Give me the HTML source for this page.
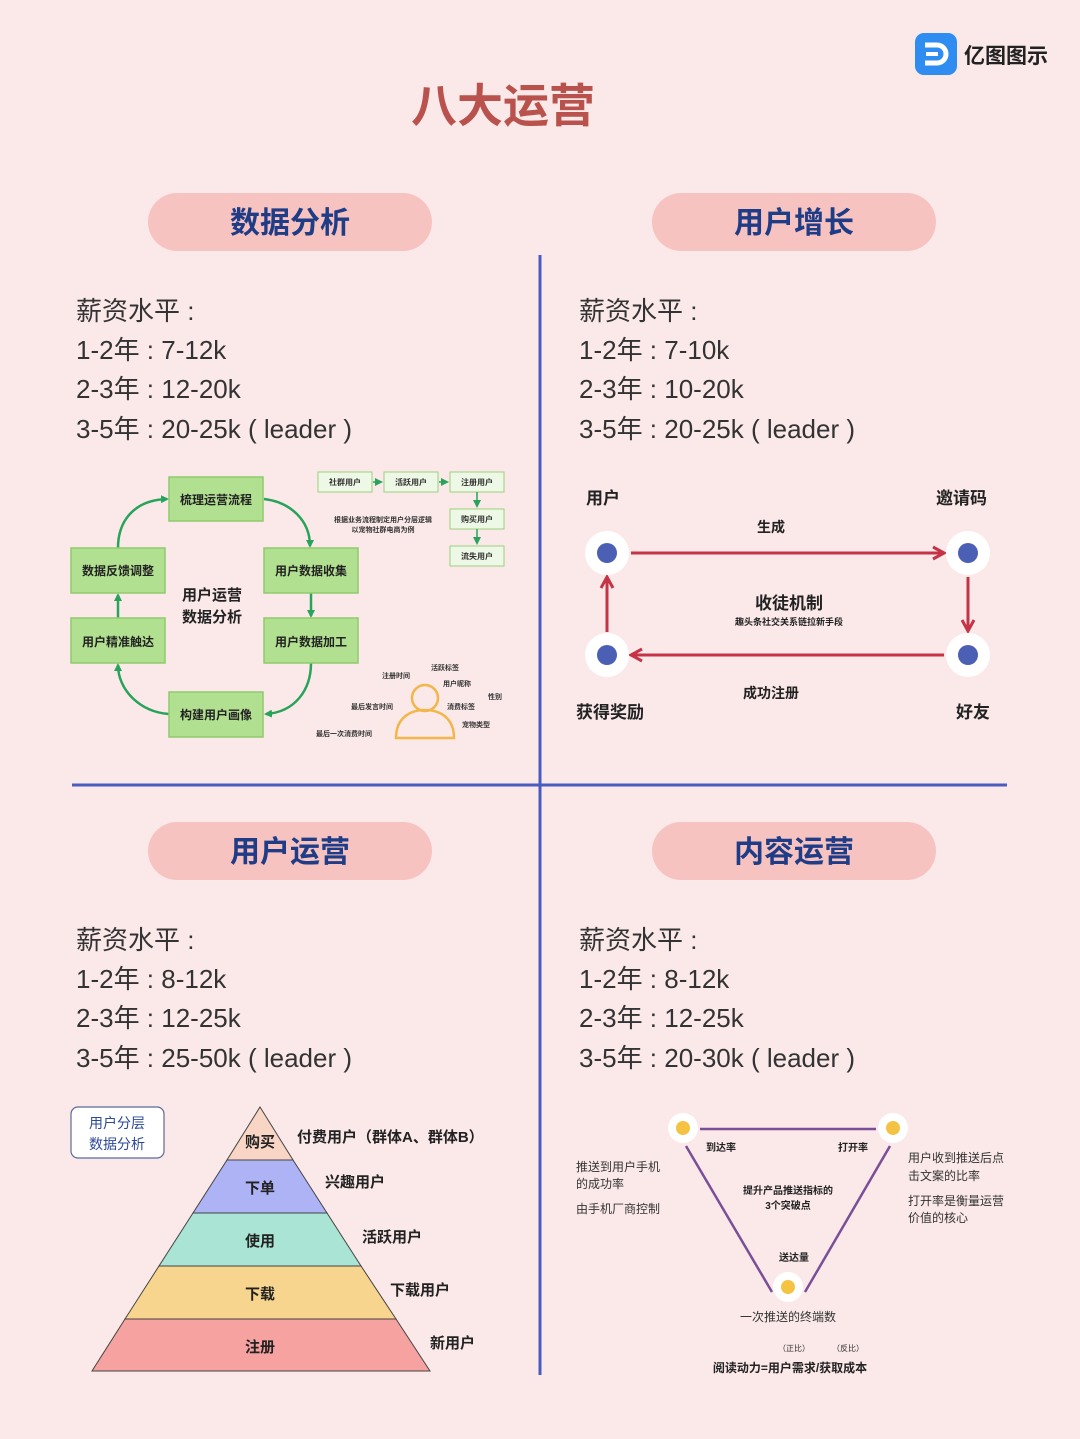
<!DOCTYPE html>
<html><head><meta charset="utf-8"><style>
html,body{margin:0;padding:0;background:#fbe9e9;}
svg{display:block;font-family:"Liberation Sans","Noto Sans CJK SC",sans-serif;}
</style></head><body>
<svg width="1080" height="1439" viewBox="0 0 1080 1439" xmlns="http://www.w3.org/2000/svg">
<defs>
<marker id="ga" markerWidth="8" markerHeight="8" refX="6" refY="4" orient="auto" markerUnits="userSpaceOnUse"><path d="M0,0 L8,4 L0,8 z" fill="#27a35a"/></marker>
<marker id="ra" markerWidth="16" markerHeight="16" refX="13" refY="8" orient="auto" markerUnits="userSpaceOnUse"><path d="M2,2 L13,8 L2,14" fill="none" stroke="#c43446" stroke-width="3"/></marker>
</defs>
<rect width="1080" height="1439" fill="#fbe9e9"/>
<rect x="915" y="33" width="42" height="42" rx="9" fill="#2f8cf0"/>
<path d="M925,45 h12 a9,9 0 0 1 0,18 h-12" fill="none" stroke="#fff" stroke-width="5"/>
<line x1="926" y1="54" x2="938" y2="54" stroke="#fff" stroke-width="4"/>
<text x="964" y="63" font-size="21" font-weight="bold" fill="#222">亿图图示</text>
<text x="503" y="122" font-size="46" font-weight="bold" fill="#b9524c" text-anchor="middle">八大运营</text>
<line x1="540" y1="255" x2="540" y2="1375" stroke="#4a5bbf" stroke-width="3"/>
<line x1="72" y1="785" x2="1007" y2="785" stroke="#4a5bbf" stroke-width="3"/>
<g font-size="30" font-weight="bold" fill="#1f3c86" text-anchor="middle">
<rect x="148" y="193" width="284" height="58" rx="29" fill="#f7c3c1"/><text x="290" y="233">数据分析</text>
<rect x="652" y="193" width="284" height="58" rx="29" fill="#f7c3c1"/><text x="794" y="233">用户增长</text>
<rect x="148" y="822" width="284" height="58" rx="29" fill="#f7c3c1"/><text x="290" y="862">用户运营</text>
<rect x="652" y="822" width="284" height="58" rx="29" fill="#f7c3c1"/><text x="794" y="862">内容运营</text>
</g>
<g font-size="26" fill="#333">
<text x="76" y="320">薪资水平 :</text><text x="76" y="359">1-2年 : 7-12k</text><text x="76" y="398">2-3年 : 12-20k</text><text x="76" y="438">3-5年 : 20-25k ( leader )</text>
<text x="579" y="320">薪资水平 :</text><text x="579" y="359">1-2年 : 7-10k</text><text x="579" y="398">2-3年 : 10-20k</text><text x="579" y="438">3-5年 : 20-25k ( leader )</text>
<text x="76" y="949">薪资水平 :</text><text x="76" y="988">1-2年 : 8-12k</text><text x="76" y="1027">2-3年 : 12-25k</text><text x="76" y="1067">3-5年 : 25-50k ( leader )</text>
<text x="579" y="949">薪资水平 :</text><text x="579" y="988">1-2年 : 8-12k</text><text x="579" y="1027">2-3年 : 12-25k</text><text x="579" y="1067">3-5年 : 20-30k ( leader )</text>
</g>
<g fill="none" stroke="#27a35a" stroke-width="2.5">
<path d="M118,548 C118,520 135,500 167,499" marker-end="url(#ga)"/>
<path d="M264,499 C290,502 310,520 310,546" marker-end="url(#ga)"/>
<path d="M311,593 L311,616" marker-end="url(#ga)"/>
<path d="M311,663 C311,690 295,712 266,714" marker-end="url(#ga)"/>
<path d="M169,714 C140,712 118,690 118,665" marker-end="url(#ga)"/>
<path d="M118,618 L118,595" marker-end="url(#ga)"/>
</g>
<g fill="#b2e091" stroke="#8fca6c" stroke-width="1.5">
<rect x="169" y="477" width="94" height="44"/><rect x="71" y="548" width="94" height="45"/><rect x="264" y="548" width="94" height="45"/>
<rect x="71" y="618" width="94" height="45"/><rect x="264" y="618" width="94" height="45"/><rect x="169" y="692" width="94" height="45"/>
</g>
<g font-size="12" font-weight="bold" fill="#222" text-anchor="middle">
<text x="216" y="504">梳理运营流程</text><text x="118" y="575">数据反馈调整</text><text x="311" y="575">用户数据收集</text>
<text x="118" y="646">用户精准触达</text><text x="311" y="646">用户数据加工</text><text x="216" y="719">构建用户画像</text>
<text x="212" y="600" font-size="15">用户运营</text><text x="212" y="622" font-size="15">数据分析</text>
</g>
<g fill="#eef8e6" stroke="#9bd07a" stroke-width="1">
<rect x="318" y="472" width="54" height="20"/><rect x="384" y="472" width="54" height="20"/><rect x="450" y="472" width="54" height="20"/>
<rect x="450" y="509" width="54" height="20"/><rect x="450" y="546" width="54" height="20"/>
</g>
<g stroke="#27a35a" stroke-width="1.5" fill="none">
<path d="M373,482 L381,482" marker-end="url(#ga)"/><path d="M439,482 L447,482" marker-end="url(#ga)"/>
<path d="M477,492 L477,506" marker-end="url(#ga)"/><path d="M477,529 L477,543" marker-end="url(#ga)"/>
</g>
<g font-size="8" font-weight="bold" fill="#333" text-anchor="middle">
<text x="345" y="485">社群用户</text><text x="411" y="485">活跃用户</text><text x="477" y="485">注册用户</text>
<text x="477" y="522">购买用户</text><text x="477" y="559">流失用户</text>
<text x="383" y="522" font-size="7">根据业务流程制定用户分层逻辑</text><text x="383" y="532" font-size="7">以宠物社群电商为例</text>
</g>
<g fill="none" stroke="#f2b64a" stroke-width="2.5">
<circle cx="425" cy="698" r="13"/><path d="M396,738 C396,718 410,710 425,710 C440,710 454,718 454,738 Z"/>
</g>
<g font-size="7" font-weight="bold" fill="#333">
<text x="382" y="678">注册时间</text><text x="431" y="670">活跃标签</text><text x="443" y="686">用户昵称</text><text x="488" y="699">性别</text>
<text x="351" y="709">最后发言时间</text><text x="447" y="709">消费标签</text><text x="462" y="727">宠物类型</text><text x="316" y="736">最后一次消费时间</text>
</g>
<g font-size="17" font-weight="bold" fill="#222">
<text x="586" y="504">用户</text><text x="936" y="504">邀请码</text><text x="576" y="718">获得奖励</text><text x="956" y="718">好友</text>
<text x="771" y="532" font-size="14" text-anchor="middle">生成</text><text x="771" y="698" font-size="14" text-anchor="middle">成功注册</text>
<text x="789" y="609" text-anchor="middle">收徒机制</text><text x="789" y="625" font-size="9" text-anchor="middle">趣头条社交关系链拉新手段</text>
</g>
<g stroke="#c43446" stroke-width="3" fill="none">
<line x1="631" y1="553" x2="944" y2="553" marker-end="url(#ra)"/>
<line x1="968" y1="577" x2="968" y2="631" marker-end="url(#ra)"/>
<line x1="944" y1="655" x2="631" y2="655" marker-end="url(#ra)"/>
<line x1="607" y1="632" x2="607" y2="577" marker-end="url(#ra)"/>
</g>
<g fill="#fff"><circle cx="607" cy="553" r="22"/><circle cx="968" cy="553" r="22"/><circle cx="607" cy="655" r="22"/><circle cx="968" cy="655" r="22"/></g>
<g fill="#4b5fb5"><circle cx="607" cy="553" r="10"/><circle cx="968" cy="553" r="10"/><circle cx="607" cy="655" r="10"/><circle cx="968" cy="655" r="10"/></g>
<rect x="71" y="1107" width="93" height="51" rx="7" fill="#fff" stroke="#5a6a9a" stroke-width="1.2"/>
<text x="117" y="1128" font-size="14" fill="#2d4a9a" text-anchor="middle">用户分层</text>
<text x="117" y="1149" font-size="14" fill="#2d4a9a" text-anchor="middle">数据分析</text>
<g stroke="#444" stroke-width="1">
<polygon points="260,1107 293,1160 227,1160" fill="#f8d5c4"/>
<polygon points="227,1160 293,1160 327,1213 193,1213" fill="#aeb3f5"/>
<polygon points="193,1213 327,1213 361,1266 159,1266" fill="#a9e4d4"/>
<polygon points="159,1266 361,1266 396,1319 125,1319" fill="#f8d58e"/>
<polygon points="125,1319 396,1319 430,1371 92,1371" fill="#f6a2a0"/>
</g>
<g font-size="15" font-weight="bold" fill="#222">
<g text-anchor="middle"><text x="260" y="1147">购买</text><text x="260" y="1193">下单</text><text x="260" y="1246">使用</text><text x="260" y="1299">下载</text><text x="260" y="1352">注册</text></g>
<text x="297" y="1142">付费用户（群体A、群体B）</text><text x="325" y="1187">兴趣用户</text><text x="362" y="1242">活跃用户</text><text x="390" y="1295">下载用户</text><text x="430" y="1348">新用户</text>
</g>
<g stroke="#7a4f98" stroke-width="2.5" fill="none">
<line x1="700" y1="1129" x2="876" y2="1129"/><line x1="686" y1="1146" x2="772" y2="1292"/><line x1="890" y1="1146" x2="805" y2="1292"/>
</g>
<g fill="#fff"><circle cx="683" cy="1128" r="15"/><circle cx="893" cy="1128" r="15"/><circle cx="788" cy="1287" r="15"/></g>
<g fill="#f5c342"><circle cx="683" cy="1128" r="7"/><circle cx="893" cy="1128" r="7"/><circle cx="788" cy="1287" r="7"/></g>
<g font-size="10" font-weight="bold" fill="#222">
<text x="706" y="1151">到达率</text><text x="838" y="1151">打开率</text><text x="779" y="1261">送达量</text>
<text x="788" y="1194" text-anchor="middle">提升产品推送指标的</text><text x="788" y="1209" text-anchor="middle">3个突破点</text>
<text x="790" y="1372" font-size="12" text-anchor="middle">阅读动力=用户需求/获取成本</text>
</g>
<g font-size="12" fill="#333">
<text x="576" y="1171">推送到用户手机</text><text x="576" y="1188">的成功率</text><text x="576" y="1213">由手机厂商控制</text>
<text x="908" y="1162">用户收到推送后点</text><text x="908" y="1180">击文案的比率</text><text x="908" y="1205">打开率是衡量运营</text><text x="908" y="1222">价值的核心</text>
<text x="788" y="1321" text-anchor="middle">一次推送的终端数</text>
<text x="778" y="1351" font-size="8">（正比）</text><text x="832" y="1351" font-size="8">（反比）</text>
</g>
</svg>
</body></html>
